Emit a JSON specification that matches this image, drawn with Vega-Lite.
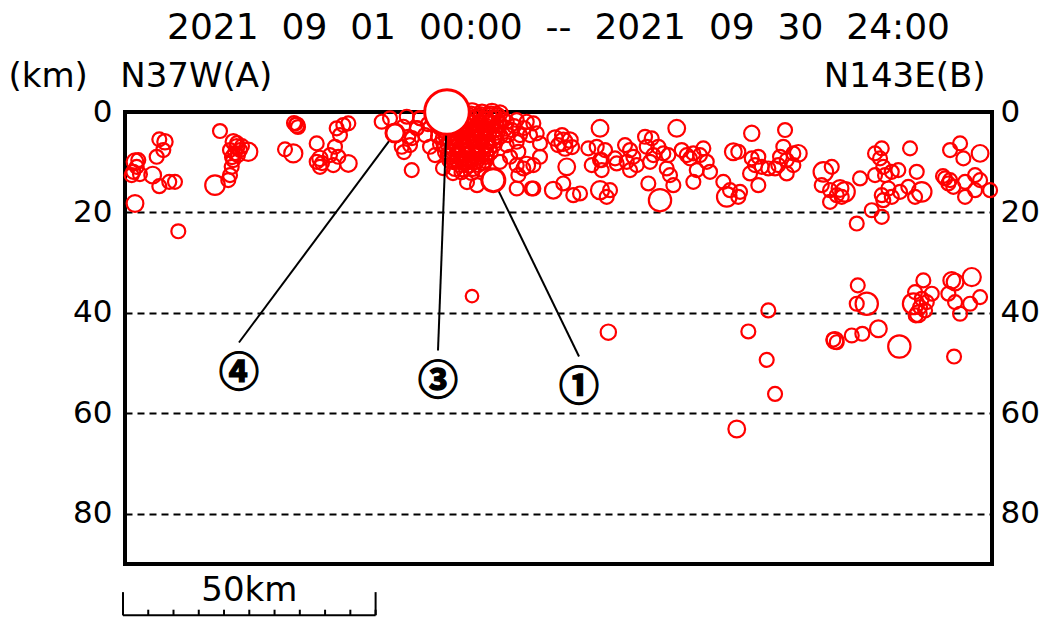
{
  "$schema": "https://vega.github.io/schema/vega-lite/v6.json",
  "width": 867,
  "height": 452,
  "autosize": {"type": "none"},
  "padding": {"left": 125, "top": 112, "right": 56, "bottom": 53},
  "background": "white",
  "config": {"view": {"stroke": "black", "strokeWidth": 4}, "font": "DejaVu Sans"},
  "title": {"text": "2021\u00a0 09\u00a0 01\u00a0 00:00\u00a0 --\u00a0 2021\u00a0 09\u00a0 30\u00a0 24:00", "anchor": "middle", "frame": "group", "fontSize": 36, "font": "DejaVu Sans", "fontWeight": "normal", "color": "black", "offset": 12},
  "datasets": {
    "quakes": [
      {"dist":2.38,"depth":9.92,"mag":1.2},{"dist":2.71,"depth":10.92,"mag":1.0},{"dist":2.04,"depth":11.91,"mag":1.0},{"dist":1.72,"depth":12.57,"mag":1.0},{"dist":3.36,"depth":12.37,"mag":1.0},{"dist":3.03,"depth":9.58,"mag":1.0},{"dist":2.38,"depth":18.22,"mag":1.2},{"dist":7.19,"depth":5.45,"mag":1.0},{"dist":8.31,"depth":5.93,"mag":1.1},{"dist":7.98,"depth":7.58,"mag":1.0},{"dist":6.67,"depth":8.92,"mag":1.0},{"dist":5.88,"depth":12.57,"mag":1.2},{"dist":7.19,"depth":14.77,"mag":1.0},{"dist":9.16,"depth":13.91,"mag":1.0},{"dist":10.29,"depth":13.91,"mag":1.0},{"dist":10.95,"depth":23.75,"mag":1.0},
      {"dist":19.2,"depth":3.79,"mag":1.0},{"dist":21.83,"depth":5.93,"mag":1.1},{"dist":22.51,"depth":6.92,"mag":1.1},{"dist":21.18,"depth":7.58,"mag":1.0},{"dist":22.17,"depth":8.18,"mag":1.0},{"dist":22.76,"depth":8.58,"mag":1.0},{"dist":21.58,"depth":8.98,"mag":1.0},{"dist":23.16,"depth":7.58,"mag":1.0},{"dist":24.8,"depth":7.92,"mag":1.3},{"dist":21.83,"depth":9.58,"mag":1.0},{"dist":21.52,"depth":10.92,"mag":1.0},{"dist":21.18,"depth":12.57,"mag":1.0},{"dist":20.84,"depth":13.57,"mag":1.0},{"dist":18.21,"depth":14.57,"mag":1.4},{"dist":22.57,"depth":6.19,"mag":1.0},{"dist":23.55,"depth":6.79,"mag":1.0},
      {"dist":32.07,"depth":7.44,"mag":1.0},{"dist":33.71,"depth":8.24,"mag":1.3},{"dist":34.38,"depth":2.59,"mag":1.1},{"dist":33.85,"depth":2.2,"mag":1.0},{"dist":34.64,"depth":2.99,"mag":1.0},{"dist":34.24,"depth":2.39,"mag":0.9},
      {"dist":38.34,"depth":6.25,"mag":1.0},{"dist":38.99,"depth":9.24,"mag":1.1},{"dist":38.99,"depth":10.92,"mag":1.0},{"dist":38.34,"depth":9.92,"mag":1.0},{"dist":39.39,"depth":10.18,"mag":1.0},{"dist":42.3,"depth":3.25,"mag":1.0},{"dist":43.61,"depth":2.59,"mag":1.0},{"dist":44.6,"depth":2.26,"mag":1.0},{"dist":42.95,"depth":4.59,"mag":1.0},{"dist":41.96,"depth":6.92,"mag":1.0},{"dist":42.62,"depth":8.92,"mag":1.0},{"dist":44.6,"depth":10.24,"mag":1.2},{"dist":41.63,"depth":10.58,"mag":1.0},{"dist":40.97,"depth":8.58,"mag":1.0},
      {"dist":51.21,"depth":1.94,"mag":1.0},{"dist":52.85,"depth":1.26,"mag":1.0},{"dist":56.16,"depth":0.94,"mag":1.0},{"dist":55.48,"depth":2.93,"mag":1.0},{"dist":56.47,"depth":4.93,"mag":1.0},{"dist":55.17,"depth":6.92,"mag":1.0},{"dist":56.81,"depth":6.59,"mag":1.0},{"dist":57.15,"depth":11.57,"mag":1.0},{"dist":58.79,"depth":1.26,"mag":1.0},{"dist":58.14,"depth":3.25,"mag":1.0},{"dist":59.78,"depth":4.59,"mag":1.0},{"dist":60.77,"depth":6.92,"mag":1.0},{"dist":61.76,"depth":8.58,"mag":1.0},{"dist":57.2,"depth":5.19,"mag":1.0},{"dist":55.62,"depth":7.98,"mag":1.0},
      {"dist":65.12,"depth":0.2,"mag":1.3},{"dist":67.1,"depth":0.2,"mag":1.2},{"dist":69.08,"depth":0.2,"mag":1.4},{"dist":71.06,"depth":0.2,"mag":1.2},{"dist":73.04,"depth":0.2,"mag":1.3},{"dist":74.62,"depth":0.2,"mag":1.1},
      {"dist":63.74,"depth":1.6,"mag":1.1},{"dist":65.72,"depth":1.6,"mag":1.3},{"dist":67.7,"depth":1.6,"mag":1.2},{"dist":69.68,"depth":1.6,"mag":1.4},{"dist":71.66,"depth":1.6,"mag":1.2},{"dist":73.63,"depth":1.6,"mag":1.3},{"dist":75.22,"depth":1.6,"mag":1.1},
      {"dist":62.75,"depth":3.2,"mag":1.0},{"dist":64.53,"depth":3.2,"mag":1.3},{"dist":66.31,"depth":3.2,"mag":1.2},{"dist":68.09,"depth":3.2,"mag":1.4},{"dist":69.87,"depth":3.2,"mag":1.2},{"dist":71.85,"depth":3.2,"mag":1.3},{"dist":73.83,"depth":3.2,"mag":1.2},{"dist":75.61,"depth":3.2,"mag":1.1},
      {"dist":62.35,"depth":4.8,"mag":1.0},{"dist":64.13,"depth":4.8,"mag":1.2},{"dist":65.91,"depth":4.8,"mag":1.3},{"dist":67.7,"depth":4.8,"mag":1.2},{"dist":69.48,"depth":4.8,"mag":1.4},{"dist":71.26,"depth":4.8,"mag":1.2},{"dist":73.04,"depth":4.8,"mag":1.3},{"dist":74.62,"depth":4.8,"mag":1.1},
      {"dist":62.75,"depth":6.4,"mag":1.0},{"dist":64.53,"depth":6.4,"mag":1.2},{"dist":66.31,"depth":6.4,"mag":1.3},{"dist":68.09,"depth":6.4,"mag":1.2},{"dist":69.87,"depth":6.4,"mag":1.3},{"dist":71.66,"depth":6.4,"mag":1.2},{"dist":73.44,"depth":6.4,"mag":1.1},
      {"dist":63.74,"depth":8.0,"mag":1.0},{"dist":65.52,"depth":8.0,"mag":1.2},{"dist":67.3,"depth":8.0,"mag":1.3},{"dist":69.08,"depth":8.0,"mag":1.2},{"dist":70.86,"depth":8.0,"mag":1.3},{"dist":72.64,"depth":8.0,"mag":1.1},
      {"dist":64.73,"depth":9.6,"mag":1.1},{"dist":66.31,"depth":9.6,"mag":1.2},{"dist":68.09,"depth":9.6,"mag":1.3},{"dist":69.87,"depth":9.6,"mag":1.2},{"dist":71.66,"depth":9.6,"mag":1.1},
      {"dist":65.72,"depth":11.2,"mag":1.1},{"dist":67.5,"depth":11.2,"mag":1.2},{"dist":69.28,"depth":11.2,"mag":1.1},{"dist":71.06,"depth":11.2,"mag":1.2},
      {"dist":63.34,"depth":11.18,"mag":1.0},{"dist":65.32,"depth":12.17,"mag":1.0},{"dist":68.09,"depth":13.97,"mag":1.0},{"dist":70.07,"depth":14.57,"mag":1.0},{"dist":58.79,"depth":1.2,"mag":1.0},{"dist":58.19,"depth":3.19,"mag":1.0},{"dist":60.37,"depth":2.4,"mag":1.0},
      {"dist":66.31,"depth":1.0,"mag":1.2},{"dist":68.29,"depth":1.0,"mag":1.3},{"dist":70.27,"depth":1.0,"mag":1.2},{"dist":72.25,"depth":1.0,"mag":1.3},
      {"dist":66.71,"depth":2.4,"mag":1.2},{"dist":68.69,"depth":2.4,"mag":1.3},{"dist":70.67,"depth":2.4,"mag":1.2},{"dist":72.64,"depth":2.4,"mag":1.3},{"dist":74.42,"depth":2.4,"mag":1.1},
      {"dist":65.12,"depth":4.0,"mag":1.2},{"dist":66.9,"depth":4.0,"mag":1.3},{"dist":68.69,"depth":4.0,"mag":1.2},{"dist":70.47,"depth":4.0,"mag":1.3},{"dist":72.25,"depth":4.0,"mag":1.2},{"dist":74.03,"depth":4.0,"mag":1.1},
      {"dist":64.93,"depth":5.6,"mag":1.2},{"dist":66.71,"depth":5.6,"mag":1.3},{"dist":68.49,"depth":5.6,"mag":1.2},{"dist":70.27,"depth":5.6,"mag":1.3},{"dist":72.05,"depth":5.6,"mag":1.2},{"dist":73.83,"depth":5.6,"mag":1.1},
      {"dist":65.32,"depth":7.2,"mag":1.2},{"dist":67.1,"depth":7.2,"mag":1.3},{"dist":68.88,"depth":7.2,"mag":1.2},{"dist":70.67,"depth":7.2,"mag":1.3},{"dist":72.45,"depth":7.2,"mag":1.1},
      {"dist":64.73,"depth":8.8,"mag":1.1},{"dist":66.51,"depth":8.8,"mag":1.2},{"dist":68.29,"depth":8.8,"mag":1.3},{"dist":70.07,"depth":8.8,"mag":1.2},{"dist":71.85,"depth":8.8,"mag":1.1},
      {"dist":66.71,"depth":10.4,"mag":1.1},{"dist":68.49,"depth":10.4,"mag":1.2},{"dist":70.27,"depth":10.4,"mag":1.1},
      {"dist":66.9,"depth":0.6,"mag":1.1},{"dist":68.9,"depth":0.6,"mag":1.2},{"dist":70.9,"depth":0.6,"mag":1.1},{"dist":72.9,"depth":0.6,"mag":1.2},{"dist":74.2,"depth":0.6,"mag":1.0},
      {"dist":64.4,"depth":2.0,"mag":1.1},{"dist":66.4,"depth":2.0,"mag":1.0},{"dist":68.4,"depth":2.0,"mag":1.1},{"dist":70.4,"depth":2.0,"mag":1.0},{"dist":72.4,"depth":2.0,"mag":1.1},{"dist":74.4,"depth":2.0,"mag":1.0},
      {"dist":63.6,"depth":3.6,"mag":1.1},{"dist":65.6,"depth":3.6,"mag":1.0},{"dist":67.6,"depth":3.6,"mag":1.1},{"dist":69.6,"depth":3.6,"mag":1.0},{"dist":71.6,"depth":3.6,"mag":1.1},{"dist":73.6,"depth":3.6,"mag":1.0},
      {"dist":63.3,"depth":5.2,"mag":1.0},{"dist":65.3,"depth":5.2,"mag":1.1},{"dist":67.3,"depth":5.2,"mag":1.0},{"dist":69.3,"depth":5.2,"mag":1.1},{"dist":71.3,"depth":5.2,"mag":1.0},{"dist":73.3,"depth":5.2,"mag":1.1},
      {"dist":63.8,"depth":6.8,"mag":1.1},{"dist":65.8,"depth":6.8,"mag":1.0},{"dist":67.8,"depth":6.8,"mag":1.1},{"dist":69.8,"depth":6.8,"mag":1.0},{"dist":71.8,"depth":6.8,"mag":1.1},
      {"dist":64.3,"depth":8.4,"mag":1.0},{"dist":66.3,"depth":8.4,"mag":1.1},{"dist":68.3,"depth":8.4,"mag":1.0},{"dist":70.3,"depth":8.4,"mag":1.1},{"dist":72.0,"depth":8.4,"mag":1.0},
      {"dist":65.5,"depth":10.0,"mag":1.0},{"dist":67.5,"depth":10.0,"mag":1.1},{"dist":69.5,"depth":10.0,"mag":1.0},{"dist":71.2,"depth":10.0,"mag":1.1},
      {"dist":67.0,"depth":12.0,"mag":1.0},{"dist":69.0,"depth":12.0,"mag":1.1},
      {"dist":74.62,"depth":9.92,"mag":1.0},{"dist":75.95,"depth":1.94,"mag":1.0},{"dist":77.93,"depth":1.6,"mag":1.0},{"dist":79.91,"depth":1.94,"mag":1.0},{"dist":80.56,"depth":4.59,"mag":1.0},{"dist":77.93,"depth":5.93,"mag":1.0},{"dist":75.95,"depth":6.59,"mag":1.0},{"dist":76.6,"depth":8.92,"mag":1.0},{"dist":78.25,"depth":7.92,"mag":1.0},{"dist":77.93,"depth":10.58,"mag":1.0},{"dist":79.24,"depth":11.24,"mag":1.0},{"dist":79.91,"depth":10.58,"mag":1.2},{"dist":78.25,"depth":12.57,"mag":1.0},{"dist":77.93,"depth":15.23,"mag":1.0},{"dist":80.9,"depth":15.23,"mag":1.0},{"dist":77.0,"depth":3.59,"mag":1.0},{"dist":78.58,"depth":4.59,"mag":1.0},{"dist":79.37,"depth":3.19,"mag":1.0},{"dist":76.21,"depth":4.59,"mag":1.0},{"dist":77.4,"depth":2.79,"mag":1.0},
      {"dist":81.22,"depth":2.26,"mag":1.0},{"dist":81.89,"depth":4.25,"mag":1.0},{"dist":82.54,"depth":6.25,"mag":1.0},{"dist":82.54,"depth":8.92,"mag":1.0},{"dist":81.22,"depth":10.58,"mag":1.0},{"dist":81.22,"depth":15.23,"mag":1.0},{"dist":87.15,"depth":5.93,"mag":1.3},{"dist":85.51,"depth":5.19,"mag":1.1},{"dist":88.48,"depth":5.59,"mag":1.1},{"dist":87.49,"depth":7.18,"mag":1.1},{"dist":86.1,"depth":6.59,"mag":1.0},{"dist":86.9,"depth":4.59,"mag":1.0},{"dist":88.88,"depth":6.98,"mag":1.0},{"dist":94.42,"depth":3.25,"mag":1.2},{"dist":87.83,"depth":10.92,"mag":1.2},{"dist":87.15,"depth":14.23,"mag":1.0},{"dist":85.17,"depth":15.57,"mag":1.2},{"dist":89.13,"depth":16.56,"mag":1.0},{"dist":90.46,"depth":16.22,"mag":1.0},{"dist":92.1,"depth":7.24,"mag":1.0},{"dist":93.76,"depth":6.92,"mag":1.0},{"dist":95.41,"depth":7.58,"mag":1.0},{"dist":94.42,"depth":9.58,"mag":1.0},{"dist":92.78,"depth":10.58,"mag":1.0},{"dist":94.75,"depth":11.57,"mag":1.0},{"dist":94.75,"depth":9.58,"mag":1.0},{"dist":97.72,"depth":10.24,"mag":1.0},{"dist":97.39,"depth":9.24,"mag":1.0},{"dist":94.42,"depth":15.57,"mag":1.3},{"dist":95.74,"depth":16.9,"mag":1.0},{"dist":96.4,"depth":15.57,"mag":1.0},
      {"dist":99.37,"depth":6.59,"mag":1.0},{"dist":100.36,"depth":7.58,"mag":1.0},{"dist":101.01,"depth":8.92,"mag":1.0},{"dist":99.7,"depth":9.92,"mag":1.0},{"dist":100.36,"depth":11.57,"mag":1.0},{"dist":101.68,"depth":10.58,"mag":1.0},{"dist":103.33,"depth":4.93,"mag":1.0},{"dist":104.65,"depth":5.25,"mag":1.0},{"dist":103.66,"depth":6.92,"mag":1.0},{"dist":105.96,"depth":6.92,"mag":1.0},{"dist":104.97,"depth":8.58,"mag":1.0},{"dist":104.32,"depth":9.92,"mag":1.0},{"dist":106.95,"depth":8.24,"mag":1.0},{"dist":107.94,"depth":8.58,"mag":1.0},{"dist":109.6,"depth":3.25,"mag":1.2},{"dist":107.62,"depth":11.24,"mag":1.0},{"dist":108.27,"depth":12.57,"mag":1.0},{"dist":108.93,"depth":14.57,"mag":1.0},{"dist":103.98,"depth":14.23,"mag":1.0},{"dist":106.29,"depth":17.56,"mag":1.6},{"dist":110.59,"depth":7.58,"mag":1.0},{"dist":111.58,"depth":8.58,"mag":1.0},{"dist":112.89,"depth":8.24,"mag":1.0},{"dist":112.23,"depth":9.24,"mag":1.0},{"dist":114.87,"depth":7.24,"mag":1.0},{"dist":114.21,"depth":8.58,"mag":1.0},{"dist":115.54,"depth":9.92,"mag":1.0},{"dist":113.56,"depth":11.57,"mag":1.0},{"dist":116.19,"depth":11.91,"mag":1.0},{"dist":112.89,"depth":13.91,"mag":1.0},{"dist":120.8,"depth":7.92,"mag":1.2},{"dist":118.82,"depth":13.91,"mag":1.0},{"dist":120.15,"depth":15.57,"mag":1.0},{"dist":119.5,"depth":16.9,"mag":1.4},
      {"dist":121.79,"depth":7.92,"mag":1.0},{"dist":122.13,"depth":15.9,"mag":1.0},{"dist":121.79,"depth":16.9,"mag":1.0},{"dist":124.45,"depth":4.25,"mag":1.1},{"dist":124.45,"depth":9.24,"mag":1.0},{"dist":125.75,"depth":8.92,"mag":1.0},{"dist":125.1,"depth":10.58,"mag":1.0},{"dist":126.43,"depth":10.92,"mag":1.0},{"dist":124.11,"depth":12.23,"mag":1.0},{"dist":127.73,"depth":11.24,"mag":1.0},{"dist":125.75,"depth":14.57,"mag":1.0},{"dist":129.06,"depth":11.24,"mag":1.0},{"dist":131.04,"depth":3.59,"mag":1.0},{"dist":130.7,"depth":6.92,"mag":1.0},{"dist":130.05,"depth":8.92,"mag":1.0},{"dist":131.37,"depth":9.58,"mag":1.0},{"dist":132.68,"depth":8.24,"mag":1.0},{"dist":133.67,"depth":8.24,"mag":1.2},{"dist":132.68,"depth":10.58,"mag":1.0},{"dist":131.37,"depth":12.23,"mag":1.0},{"dist":129.71,"depth":10.58,"mag":1.0},
      {"dist":138.62,"depth":11.91,"mag":1.4},{"dist":140.28,"depth":10.92,"mag":1.0},{"dist":138.3,"depth":14.57,"mag":1.0},{"dist":139.95,"depth":15.57,"mag":1.0},{"dist":139.95,"depth":17.9,"mag":1.0},{"dist":141.92,"depth":15.23,"mag":1.2},{"dist":142.91,"depth":15.9,"mag":1.4},{"dist":142.26,"depth":16.9,"mag":1.0},{"dist":141.27,"depth":16.56,"mag":1.0},{"dist":145.88,"depth":13.23,"mag":1.0},{"dist":148.2,"depth":19.56,"mag":1.0},{"dist":150.18,"depth":20.89,"mag":1.0},{"dist":145.23,"depth":22.21,"mag":1.0},
      {"dist":148.85,"depth":8.24,"mag":1.0},{"dist":150.18,"depth":7.24,"mag":1.0},{"dist":149.84,"depth":9.24,"mag":1.0},{"dist":150.49,"depth":10.92,"mag":1.0},{"dist":148.85,"depth":12.57,"mag":1.0},{"dist":150.83,"depth":12.57,"mag":1.0},{"dist":152.16,"depth":11.91,"mag":1.0},{"dist":153.46,"depth":11.57,"mag":1.0},{"dist":155.78,"depth":7.24,"mag":1.0},{"dist":157.1,"depth":11.91,"mag":1.0},{"dist":151.48,"depth":15.23,"mag":1.0},{"dist":150.18,"depth":16.56,"mag":1.0},{"dist":150.49,"depth":17.56,"mag":1.0},{"dist":152.16,"depth":16.9,"mag":1.0},{"dist":153.8,"depth":15.9,"mag":1.0},{"dist":155.44,"depth":14.91,"mag":1.0},{"dist":156.77,"depth":16.9,"mag":1.0},{"dist":158.09,"depth":15.9,"mag":1.4},
      {"dist":163.7,"depth":7.58,"mag":1.0},{"dist":165.68,"depth":6.25,"mag":1.0},{"dist":166.33,"depth":9.24,"mag":1.0},{"dist":169.64,"depth":8.24,"mag":1.2},{"dist":162.71,"depth":13.23,"mag":1.0},{"dist":163.36,"depth":14.23,"mag":1.0},{"dist":164.35,"depth":14.91,"mag":1.0},{"dist":166.67,"depth":13.91,"mag":1.0},{"dist":168.65,"depth":12.57,"mag":1.0},{"dist":169.64,"depth":13.57,"mag":1.0},{"dist":166.67,"depth":16.9,"mag":1.0},{"dist":168.65,"depth":15.57,"mag":1.0},{"dist":171.62,"depth":15.57,"mag":1.0},{"dist":162.3,"depth":12.77,"mag":1.0},{"dist":163.7,"depth":13.57,"mag":1.0},
      {"dist":127.73,"depth":39.51,"mag":1.0},{"dist":123.77,"depth":43.7,"mag":1.0},{"dist":127.41,"depth":49.35,"mag":1.0},{"dist":129.06,"depth":56.14,"mag":1.0},{"dist":121.48,"depth":63.12,"mag":1.2},{"dist":145.43,"depth":34.52,"mag":1.0},{"dist":145.23,"depth":38.18,"mag":1.0},{"dist":147.21,"depth":38.18,"mag":1.6},{"dist":140.93,"depth":45.5,"mag":1.2},{"dist":141.27,"depth":45.84,"mag":1.0},{"dist":140.6,"depth":45.3,"mag":1.0},{"dist":144.24,"depth":44.5,"mag":1.0},{"dist":146.34,"depth":44.16,"mag":1.0},{"dist":149.51,"depth":43.17,"mag":1.2},{"dist":153.66,"depth":46.7,"mag":1.6},
      {"dist":158.41,"depth":33.53,"mag":1.0},{"dist":156.77,"depth":35.86,"mag":1.0},{"dist":156.43,"depth":38.18,"mag":1.5},{"dist":157.76,"depth":38.85,"mag":1.0},{"dist":157.42,"depth":40.17,"mag":1.2},{"dist":158.75,"depth":39.51,"mag":1.0},{"dist":159.09,"depth":37.86,"mag":1.0},{"dist":160.08,"depth":36.18,"mag":1.0},{"dist":158.1,"depth":37.2,"mag":1.0},{"dist":156.9,"depth":40.5,"mag":1.0},{"dist":164.03,"depth":33.53,"mag":1.2},{"dist":164.69,"depth":33.87,"mag":1.2},{"dist":167.99,"depth":32.87,"mag":1.3},{"dist":163.36,"depth":36.18,"mag":1.0},{"dist":164.69,"depth":37.86,"mag":1.0},{"dist":167.66,"depth":38.18,"mag":1.0},{"dist":169.64,"depth":36.86,"mag":1.0},{"dist":165.68,"depth":40.17,"mag":1.0},{"dist":164.49,"depth":48.69,"mag":1.0},
      {"dist":69.08,"depth":36.66,"mag":0.9},{"dist":96.06,"depth":43.84,"mag":1.1}
    ],
    "callouts": [
      {"label":"①","dist":73.3,"depth":13.57,"mag":1.65,"labelDist":90.26,"labelDepth":48.69},
      {"label":"③","dist":64.13,"depth":0.0,"mag":3.2,"labelDist":62.35,"labelDepth":47.5},
      {"label":"④","dist":53.84,"depth":4.19,"mag":1.3,"labelDist":22.96,"labelDepth":45.9}
    ],
    "scalebar": [{"start":0,"end":50,"label":"50km"}],
    "scaleTicks": [{"km":0,"major":true},{"km":5,"major":false},{"km":10,"major":false},{"km":15,"major":false},{"km":20,"major":false},{"km":25,"major":false},{"km":30,"major":false},{"km":35,"major":false},{"km":40,"major":false},{"km":45,"major":false},{"km":50,"major":true}]
  },
  "resolve": {"axis": {"y": "independent"}},
  "layer": [
    {
      "data": {"name": "quakes"},
      "mark": {"type": "point", "shape": "circle", "filled": false, "stroke": "#ff0000", "strokeWidth": 2.2, "opacity": 1},
      "encoding": {
        "x": {"field": "dist", "type": "quantitative", "scale": {"domain": [0.4, 172], "nice": false, "zero": false}, "axis": null},
        "y": {"field": "depth", "type": "quantitative", "scale": {"domain": [0, 90], "nice": false, "zero": false, "reverse": true},
              "axis": {"orient": "left", "values": [0, 20, 40, 60, 80], "grid": true, "gridDash": [7, 5], "gridColor": "black", "gridWidth": 2, "gridOpacity": 1, "ticks": false, "domain": false,
                       "labelFontSize": 31, "labelFont": "DejaVu Sans", "labelColor": "black", "labelPadding": 13,
                       "title": "(km)\u00a0\u00a0 N37W(A)", "titleAngle": 0, "titleAlign": "left", "titleBaseline": "alphabetic", "titleX": -117, "titleY": -26,
                       "titleFontSize": 34, "titleFontWeight": "normal", "titleFont": "DejaVu Sans", "titleColor": "black"}},
        "size": {"field": "mag", "type": "quantitative", "scale": {"type": "pow", "exponent": 2, "domain": [0, 6], "range": [0, 7000]}, "legend": null}
      }
    },
    {
      "data": {"name": "callouts"},
      "mark": {"type": "rule", "color": "black", "strokeWidth": 2},
      "encoding": {
        "x": {"field": "dist", "type": "quantitative", "axis": null},
        "y": {"field": "depth", "type": "quantitative", "axis": null},
        "x2": {"field": "labelDist"},
        "y2": {"field": "labelDepth"}
      }
    },
    {
      "data": {"name": "callouts"},
      "mark": {"type": "point", "shape": "circle", "filled": true, "fill": "white", "stroke": "#ff0000", "strokeWidth": 3, "opacity": 1, "fillOpacity": 1},
      "encoding": {
        "x": {"field": "dist", "type": "quantitative", "axis": null},
        "y": {"field": "depth", "type": "quantitative", "axis": null},
        "size": {"field": "mag", "type": "quantitative", "legend": null}
      }
    },
    {
      "data": {"name": "callouts"},
      "mark": {"type": "text", "font": "Noto Sans CJK JP", "fontWeight": "bold", "fontSize": 40, "color": "black", "stroke": "black", "strokeWidth": 1.3, "align": "center", "baseline": "middle", "dy": 31},
      "encoding": {
        "x": {"field": "labelDist", "type": "quantitative", "axis": null},
        "y": {"field": "labelDepth", "type": "quantitative",
              "axis": {"orient": "right", "values": [0, 20, 40, 60, 80], "grid": false, "ticks": false, "domain": false,
                       "labelFontSize": 31, "labelFont": "DejaVu Sans", "labelColor": "black", "labelPadding": 8,
                       "title": "N143E(B)", "titleAngle": 0, "titleAlign": "right", "titleBaseline": "alphabetic", "titleX": -7, "titleY": -26,
                       "titleFontSize": 34, "titleFontWeight": "normal", "titleFont": "DejaVu Sans", "titleColor": "black"}},
        "text": {"field": "label"}
      }
    },
    {
      "data": {"name": "scalebar"},
      "mark": {"type": "rule", "color": "black", "strokeWidth": 2},
      "encoding": {
        "x": {"field": "start", "type": "quantitative", "axis": null},
        "x2": {"field": "end"},
        "y": {"datum": 100.2, "type": "quantitative", "axis": null}
      }
    },
    {
      "data": {"name": "scaleTicks"},
      "mark": {"type": "rule", "color": "black", "strokeWidth": 2},
      "encoding": {
        "x": {"field": "km", "type": "quantitative", "axis": null},
        "y": {"datum": 99.1, "type": "quantitative", "axis": null},
        "y2": {"datum": 100.2}
      }
    },
    {
      "data": {"name": "scaleTicks"},
      "transform": [{"filter": "datum.major"}],
      "mark": {"type": "rule", "color": "black", "strokeWidth": 2},
      "encoding": {
        "x": {"field": "km", "type": "quantitative", "axis": null},
        "y": {"datum": 95.6, "type": "quantitative", "axis": null},
        "y2": {"datum": 100.2}
      }
    },
    {
      "data": {"name": "scalebar"},
      "mark": {"type": "text", "fontSize": 34, "font": "DejaVu Sans", "color": "black", "align": "center", "baseline": "alphabetic"},
      "encoding": {
        "x": {"datum": 25, "type": "quantitative", "axis": null},
        "y": {"datum": 97.4, "type": "quantitative", "axis": null},
        "text": {"field": "label"}
      }
    }
  ]
}
